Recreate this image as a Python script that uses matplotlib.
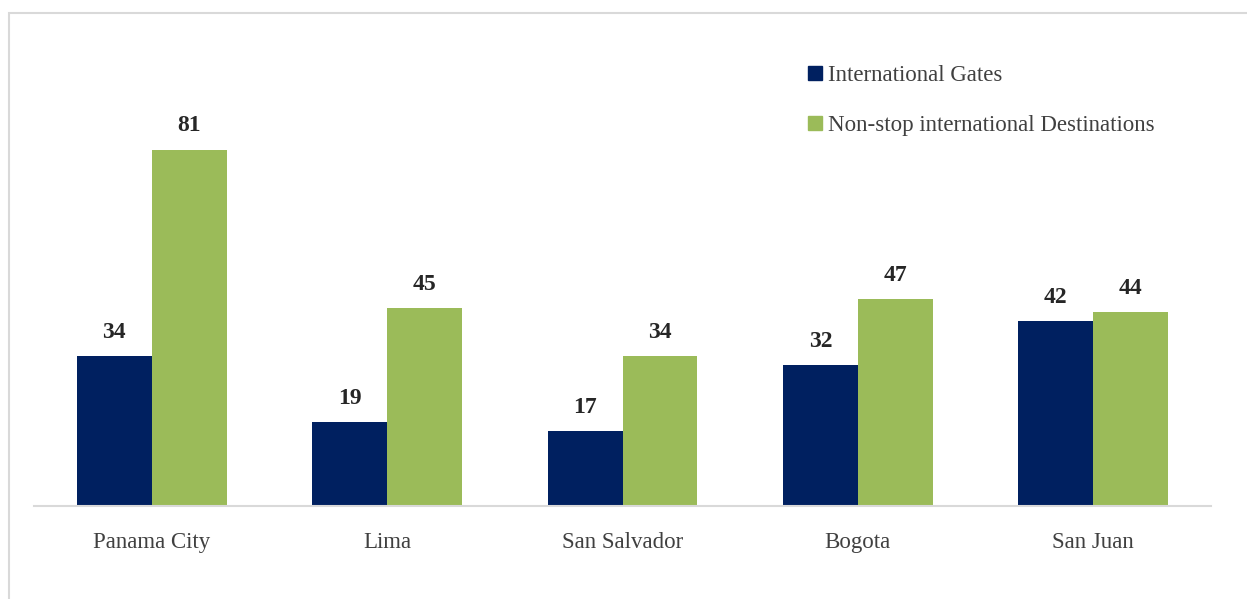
import matplotlib.pyplot as plt
import numpy as np
from matplotlib.patches import Rectangle, Patch

cities = ['Panama City', 'Lima', 'San Salvador', 'Bogota', 'San Juan']
gates = [34, 19, 17, 32, 42]
destinations = [81, 45, 34, 47, 44]

navy = '#002060'
green = '#9bbb59'

plt.rcParams['font.family'] = ['Liberation Serif', 'DejaVu Serif']

W, H = 1247, 599
fig = plt.figure(figsize=(W / 100, H / 100), dpi=100)

# light outer frame
fig.patches.append(Rectangle((9 / W, -0.1), 1.2, 1 - 13 / H + 0.1, transform=fig.transFigure,
                             fill=False, edgecolor='#d9d9d9', linewidth=1.5))

ax = fig.add_axes([34 / W, (H - 506) / H, 1177 / W, (506 - 110) / H])
x = np.arange(len(cities))
bw = 0.318
b1 = ax.bar(x - bw / 2, gates, bw, color=navy)
b2 = ax.bar(x + bw / 2, destinations, bw, color=green)

for bars, vals in ((b1, gates), (b2, destinations)):
    for b, v in zip(bars, vals):
        ax.text(b.get_x() + b.get_width() / 2, v + 3.0, str(v), ha='center', va='bottom',
                fontsize=17, fontweight='bold', color='#262626')

ax.set_xlim(-0.5, len(cities) - 0.5)
ax.set_ylim(0, 90)
ax.set_xticks(x)
ax.set_xticklabels(cities, fontsize=16.5, color='#404040')
ax.tick_params(axis='x', length=0, pad=19)
ax.set_yticks([])
for s in ('top', 'right', 'left'):
    ax.spines[s].set_visible(False)
ax.spines['bottom'].set_color('#d9d9d9')
ax.spines['bottom'].set_linewidth(1.5)

handles = [Patch(color=navy, label='International Gates'),
           Patch(color=green, label='Non-stop international Destinations')]
fig.legend(handles=handles, loc='upper left', bbox_to_anchor=(808 / W, 1 - 65 / H),
           frameon=False, fontsize=16.5, handlelength=0.62, handleheight=0.62,
           handletextpad=0.25, labelspacing=1.27, borderpad=0, borderaxespad=0,
           labelcolor='#404040')

fig.savefig('out.png', dpi=100)
